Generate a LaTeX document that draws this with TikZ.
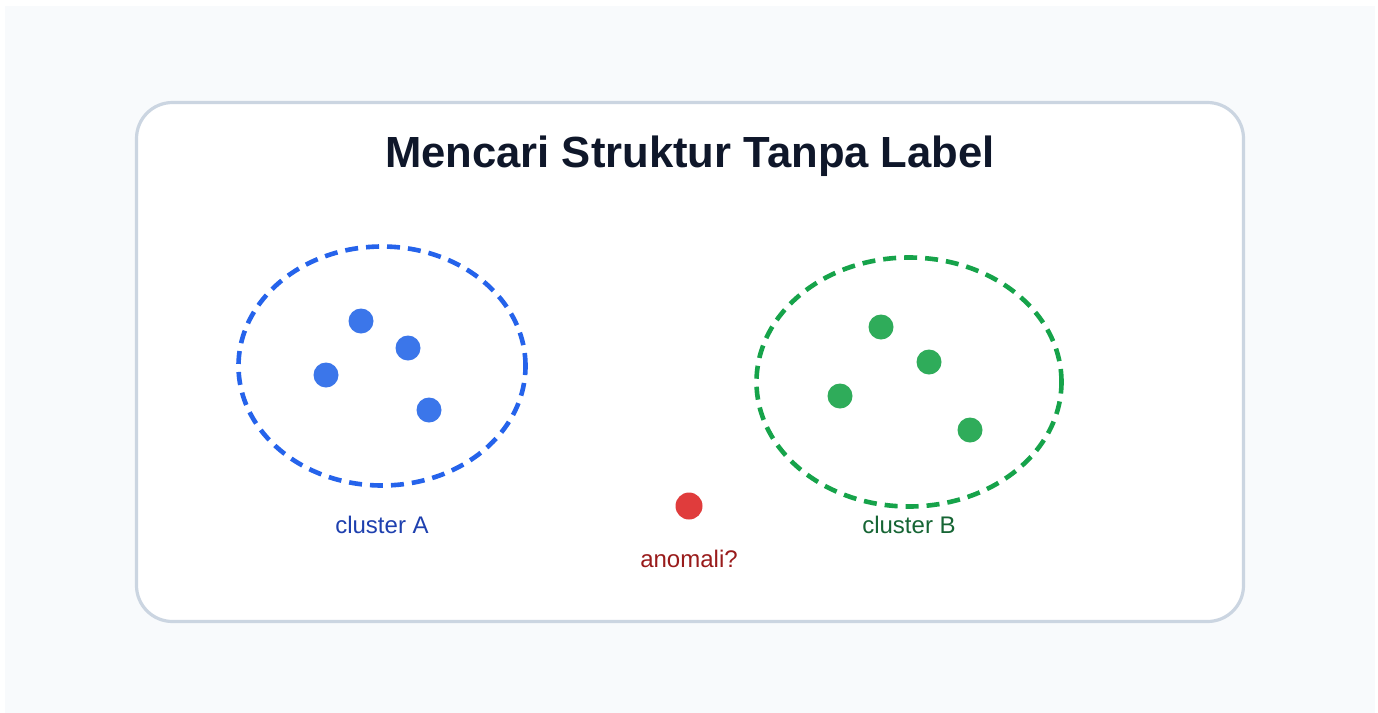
\documentclass[tikz,border=0pt]{standalone}
\usepackage{fontspec}
\setmainfont{Liberation Sans}
\usetikzlibrary{shapes.geometric}

\definecolor{pagebg}{HTML}{F8FAFC}
\definecolor{cardline}{HTML}{CBD5E1}
\definecolor{titlecol}{HTML}{0F172A}
\definecolor{blueline}{HTML}{2563EB}
\definecolor{bluedot}{HTML}{3B76EA}
\definecolor{bluetext}{HTML}{1E40AF}
\definecolor{greenline}{HTML}{16A34A}
\definecolor{greendot}{HTML}{2FAC5A}
\definecolor{greentext}{HTML}{166534}
\definecolor{reddot}{HTML}{E03C3C}
\definecolor{redtext}{HTML}{991B1B}

\tikzset{
  pt/.style={circle, inner sep=0pt, minimum size=12.5pt},
  ptA/.style={pt, fill=bluedot},
  ptB/.style={pt, fill=greendot},
  ring/.style={ellipse, inner sep=0pt, line width=2.3pt, dash pattern=on 6.5pt off 4pt},
  lbl/.style={font=\fontsize{12}{14}\selectfont}
}

\begin{document}
\begin{tikzpicture}[x=0.5pt, y=-0.5pt]
    % Page and card
    \useasboundingbox (0,0) rectangle (1378,713);
    \fill[pagebg] (5,6) rectangle (1375,713);
    \node (card) [draw=cardline, line width=1.6pt, fill=white, rounded corners=18pt,
        minimum width=553.5pt, minimum height=259.5pt] at (690,362) {};

    % Title
    \node (title) [font=\fontsize{21.8}{26}\selectfont\bfseries, text=titlecol] at (690,156)
        {Mencari Struktur Tanpa Label};

    % Cluster A
    \node (ringA) [ring, draw=blueline, minimum width=143.5pt, minimum height=119.5pt] at (382,366) {};
    \node (a1) [ptA] at (361,321) {};
    \node (a2) [ptA] at (408,348) {};
    \node (a3) [ptA] at (326,375) {};
    \node (a4) [ptA] at (429,410) {};
    \node (labA) [lbl, text=bluetext] at (382,525) {cluster A};

    % Cluster B
    \node (ringB) [ring, draw=greenline, minimum width=152.5pt, minimum height=124.5pt] at (909,382) {};
    \node (b1) [ptB] at (881,327) {};
    \node (b2) [ptB] at (929,362) {};
    \node (b3) [ptB] at (840,396) {};
    \node (b4) [ptB] at (970,430) {};
    \node (labB) [lbl, text=greentext] at (909,525) {cluster B};

    % Outlier
    \node (odd) [pt, minimum size=13.5pt, fill=reddot] at (689,506) {};
    \node (labOdd) [lbl, text=redtext] at (689,559) {anomali?};
\end{tikzpicture}
\end{document}
